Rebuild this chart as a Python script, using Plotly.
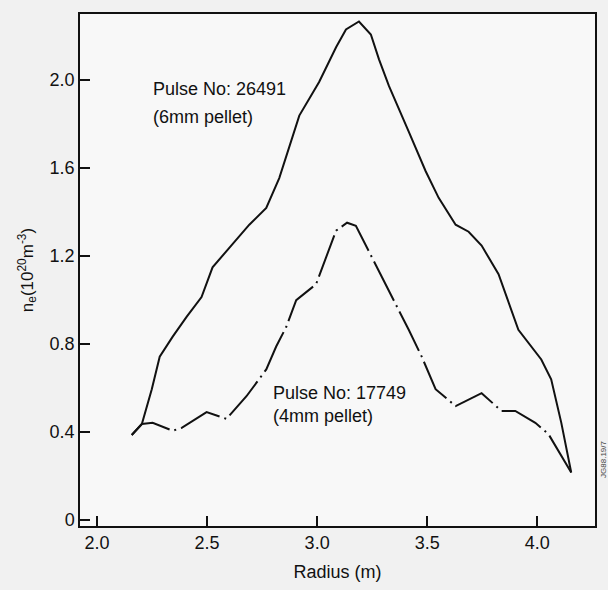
import plotly.graph_objects as go

# 6mm pellet, pulse 26491
r_6mm = [2.158, 2.204, 2.249, 2.285, 2.344, 2.407, 2.475, 2.525, 2.602, 2.692, 2.769, 2.828,
         2.919, 3.009, 3.086, 3.131, 3.190, 3.244, 3.281, 3.326, 3.416, 3.493, 3.552, 3.629,
         3.688, 3.747, 3.824, 3.914, 4.018, 4.063, 4.109, 4.154]
ne_6mm = [0.386, 0.436, 0.594, 0.742, 0.833, 0.923, 1.013, 1.148, 1.238, 1.342, 1.418, 1.554,
          1.838, 1.991, 2.149, 2.230, 2.266, 2.207, 2.094, 1.973, 1.765, 1.585, 1.464, 1.342,
          1.310, 1.247, 1.117, 0.864, 0.729, 0.639, 0.441, 0.215]

# 4mm pellet, pulse 17749
r_4mm = [2.158, 2.204, 2.253, 2.344, 2.385, 2.466, 2.498, 2.588, 2.679, 2.769, 2.814, 2.860,
         2.905, 2.995, 3.041, 3.086, 3.136, 3.176, 3.249, 3.312, 3.416, 3.475, 3.538, 3.629,
         3.747, 3.837, 3.900, 3.991, 4.050, 4.154]
ne_4mm = [0.386, 0.436, 0.441, 0.405, 0.418, 0.472, 0.490, 0.459, 0.562, 0.684, 0.788, 0.878,
          0.999, 1.071, 1.193, 1.315, 1.351, 1.337, 1.193, 1.071, 0.864, 0.742, 0.594, 0.517,
          0.576, 0.495, 0.495, 0.441, 0.391, 0.215]

x_ticks = [2.0, 2.5, 3.0, 3.5, 4.0]
x_ticktext = ["2.0", "2.5", "3.0", "3.5", "4.0"]
y_ticks = [0, 0.4, 0.8, 1.2, 1.6, 2.0]
y_ticktext = ["0", "0.4", "0.8", "1.2", "1.6", "2.0"]

labels_6mm = ["Pulse No: 26491", "(6mm pellet)"]
labels_4mm = ["Pulse No: 17749", "(4mm pellet)"]

fig = go.Figure()
fig.add_trace(go.Scatter(x=r_6mm, y=ne_6mm, mode="lines",
                         line=dict(color="#111111", width=2), showlegend=False))
fig.add_trace(go.Scatter(x=r_4mm, y=ne_4mm, mode="lines",
                         line=dict(color="#111111", width=2, dash="44px,5px,2px,5px"),
                         showlegend=False))

font = "Liberation Sans, Arial, sans-serif"
for txt, yy in zip(labels_6mm, [1.959, 1.833]):
    fig.add_annotation(x=2.244, y=yy, xref="x", yref="y", xanchor="left", yanchor="middle",
                       text=txt, showarrow=False, align="left",
                       font=dict(family=font, size=18, color="#111111"))
for txt, yy in zip(labels_4mm, [0.576, 0.472]):
    fig.add_annotation(x=2.792, y=yy, xref="x", yref="y", xanchor="left", yanchor="middle",
                       text=txt, showarrow=False, align="left",
                       font=dict(family=font, size=18, color="#111111"))
fig.add_annotation(x=1.0, y=0.13, xref="paper", yref="paper", xanchor="left", yanchor="middle",
                   xshift=2, text="JG88.19/7", textangle=-90, showarrow=False,
                   font=dict(family=font, size=8, color="#444444"))

fig.update_xaxes(range=[1.923, 4.262], tickvals=x_ticks, ticktext=x_ticktext,
                 ticks="inside", ticklen=10, tickwidth=1.5, tickcolor="#111111",
                 showline=True, linecolor="#111111", linewidth=1.5, mirror=True,
                 showgrid=False, zeroline=False,
                 tickfont=dict(family=font, size=18, color="#111111"),
                 title=dict(text="Radius (m)", font=dict(family=font, size=18, color="#111111"),
                            standoff=13))
fig.update_yaxes(range=[-0.028, 2.30], tickvals=y_ticks, ticktext=y_ticktext,
                 ticks="inside", ticklen=10, tickwidth=1.5, tickcolor="#111111",
                 showline=True, linecolor="#111111", linewidth=1.5, mirror=True,
                 showgrid=False, zeroline=False,
                 tickfont=dict(family=font, size=18, color="#111111"),
                 title=dict(text="n<sub>e</sub>(10<sup>20</sup>m<sup>-3</sup>)",
                            font=dict(family=font, size=17, color="#111111"), standoff=12))

fig.update_layout(width=608, height=590, margin=dict(l=80, r=11, t=14, b=59),
                  paper_bgcolor="#f1f1f1", plot_bgcolor="#f8f8f8")

fig.write_html("out.html")
